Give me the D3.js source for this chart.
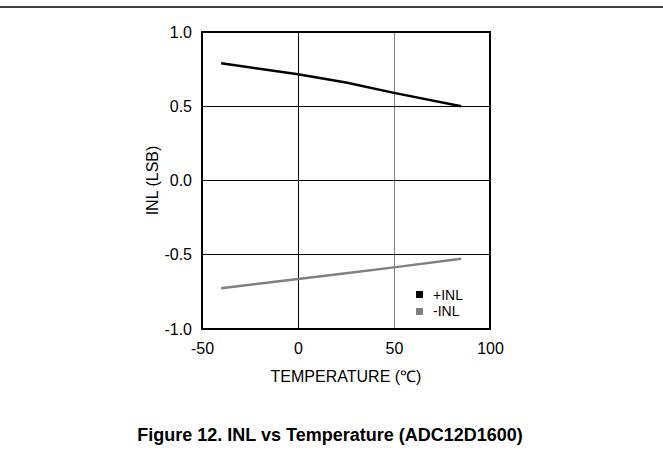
<!DOCTYPE html>
<html><head><meta charset="utf-8">
<script src="https://cdn.jsdelivr.net/npm/d3@7"></script>
<style>body{margin:0;background:#fff}</style>
</head><body>
<script>
const temps = [-40, 0, 25, 50, 85];
const inlPos = [0.79, 0.715, 0.66, 0.59, 0.50];
const inlNeg = [-0.726, -0.663, -0.625, -0.585, -0.527];
const xTicks = [-50, 0, 50, 100];
const yTicks = [-1.0, -0.5, 0.0, 0.5, 1.0];
const seriesNames = ["+INL", "-INL"];
const seriesColors = ["#000000", "#808080"];

const W = 663, H = 473;
const svg = d3.select("body").append("svg").attr("width", W).attr("height", H);
const font = "Liberation Sans, Arial, sans-serif";

svg.append("line").attr("x1", 0).attr("x2", W).attr("y1", 7).attr("y2", 7)
  .attr("stroke", "#000").attr("stroke-width", 1.5);

const L = 202, R = 490, T = 32, B = 329;
const x = d3.scaleLinear().domain([-50, 100]).range([L, R]);
const y = d3.scaleLinear().domain([-1, 1]).range([B, T]);

// grid
svg.append("g").attr("shape-rendering", "crispEdges").selectAll("line").data([0, 50]).join("line")
  .attr("x1", d => x(d)).attr("x2", d => x(d)).attr("y1", T).attr("y2", B)
  .attr("stroke", (d, i) => i === 0 ? "#000" : "#808080").attr("stroke-width", 1);
svg.append("g").attr("shape-rendering", "crispEdges").selectAll("line").data([-0.5, 0, 0.5]).join("line")
  .attr("x1", L).attr("x2", R).attr("y1", d => y(d)).attr("y2", d => y(d))
  .attr("stroke", "#000").attr("stroke-width", 1);

// axes tick labels
const xAxis = d3.axisBottom(x).tickValues(xTicks).tickSize(0).tickPadding(14).tickFormat(d => String(d));
const gx = svg.append("g").attr("transform", `translate(0,${B})`).call(xAxis);
gx.select(".domain").remove();
gx.attr("font-family", font).attr("font-size", 16);
gx.selectAll("text").attr("fill", "#000");

const yAxis = d3.axisLeft(y).tickValues(yTicks).tickSize(0).tickPadding(10).tickFormat(d => d.toFixed(1));
const gy = svg.append("g").attr("transform", `translate(${L},0)`).call(yAxis);
gy.select(".domain").remove();
gy.attr("font-family", font).attr("font-size", 16);
gy.selectAll("text").attr("fill", "#000");

// lines
const line = d3.line().x((d, i) => x(temps[i])).y(d => y(d));
[inlPos, inlNeg].forEach((s, k) => {
  svg.append("path").datum(s).attr("d", line).attr("fill", "none")
    .attr("stroke", seriesColors[k]).attr("stroke-width", 2.5);
});

// frame
svg.append("rect").attr("x", L).attr("y", T).attr("width", R - L).attr("height", B - T)
  .attr("fill", "none").attr("stroke", "#000").attr("stroke-width", 2);

// legend
const lg = svg.append("g").attr("transform", "translate(416,290)");
seriesNames.forEach((n, i) => {
  lg.append("rect").attr("x", 0).attr("y", i * 17 + 1).attr("width", 7).attr("height", 7).attr("fill", seriesColors[i]);
  lg.append("text").attr("x", 17).attr("y", i * 16 + 10).text(n)
    .attr("font-family", font).attr("font-size", 14).attr("fill", "#000");
});

// axis titles
svg.append("text").attr("x", (L + R) / 2).attr("y", 382).attr("text-anchor", "middle")
  .attr("font-family", font).attr("font-size", 16).text("TEMPERATURE (℃)");
svg.append("text").attr("transform", `translate(158,${(T + B) / 2}) rotate(-90)`).attr("text-anchor", "middle")
  .attr("font-family", font).attr("font-size", 16).text("INL (LSB)");

svg.append("text").attr("x", 330).attr("y", 441).attr("text-anchor", "middle")
  .attr("font-family", font).attr("font-size", 18).attr("font-weight", "bold").text("Figure 12. INL vs Temperature (ADC12D1600)");
</script>
</body></html>
